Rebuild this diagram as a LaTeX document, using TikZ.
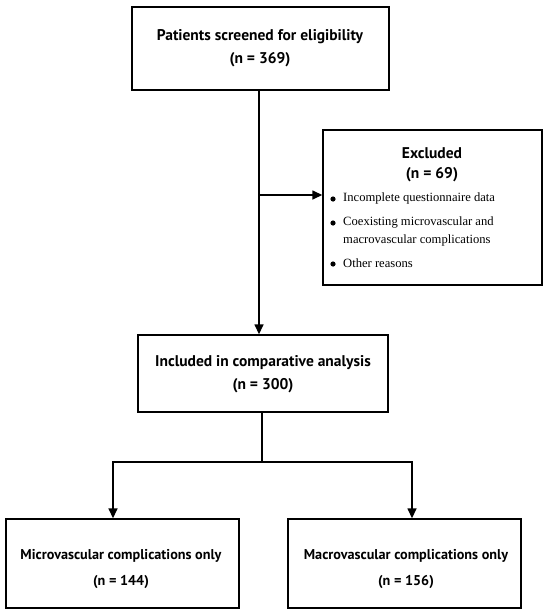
\documentclass[tikz,border=0pt]{standalone}
\usepackage{fontspec}
\setmainfont{Liberation Serif}
\newfontfamily\hd{PT Sans}
\usetikzlibrary{arrows.meta}
\begin{document}
\begin{tikzpicture}[x=1pt,y=-1pt,
  box/.style={draw, line width=1.4pt, rectangle, inner sep=0pt},
  hdtext/.style={font=\hd\bfseries\fontsize{15.5}{18}\selectfont, inner sep=0pt, anchor=center},
  hdsmall/.style={font=\hd\bfseries\fontsize{14.2}{17}\selectfont, inner sep=0pt, anchor=center},
  bl/.style={font=\fontsize{12.6}{15}\selectfont, inner sep=0pt, anchor=west},
  conn/.style={line width=1.5pt},
  arr/.style={conn, -{Triangle[length=10pt,width=9pt]}}]
\useasboundingbox (0,0) rectangle (550,613);
% boxes
\node[box, minimum width=257pt, minimum height=83pt] (top) at (260.5,48.5) {};
\node[box, minimum width=219pt, minimum height=155pt] (excl) at (432.5,207.5) {};
\node[box, minimum width=250pt, minimum height=77pt] (incl) at (263,373.5) {};
\node[box, minimum width=233pt, minimum height=89pt] (micro) at (122.5,563.5) {};
\node[box, minimum width=233pt, minimum height=89pt] (macro) at (404.5,563.5) {};
% texts
\node[hdtext] (t1) at (260,37) {Patients screened for eligibility};
\node[hdtext] (t2) at (260,60) {(n = 369)};
\node[hdtext] (e1) at (432,153) {Excluded};
\node[hdtext] (e2) at (432,175) {(n = 69)};
\node[bl] (b1) at (343,198) {Incomplete questionnaire data};
\node[bl] (b2) at (343,222) {Coexisting microvascular and};
\node[bl] (b3) at (343,240) {macrovascular complications};
\node[bl] (b4) at (343,263) {Other reasons};
\foreach \yy/\nm in {199/d1,223/d2,264/d3}
  \fill (333,\yy) circle (2.6pt) coordinate (\nm);
\node[hdtext] (i1) at (263,363) {Included in comparative analysis};
\node[hdtext] (i2) at (263,386) {(n = 300)};
\node[hdsmall] (m1) at (121,556) {Microvascular complications only};
\node[hdsmall] (m2) at (121,582) {(n = 144)};
\node[hdsmall] (a1) at (406,556) {Macrovascular complications only};
\node[hdsmall] (a2) at (406,582) {(n = 156)};
% connectors
\coordinate (s) at ([xshift=-1.5pt]top.south);
\coordinate (br) at (s |- 0,195);
\draw[arr] (s) -- (s |- incl.north);
\draw[arr] (br) -- (excl.west |- br);
\coordinate (j) at ([xshift=-1pt]incl.south |- 0,462);
\coordinate (jl) at (113,462);
\coordinate (jr) at (412,462);
\draw[conn] ([xshift=-1pt]incl.south) -- (j);
\draw[conn] ([xshift=-0.75pt]jl) -- ([xshift=0.75pt]jr);
\draw[arr] (jl) -- (jl |- micro.north);
\draw[arr] (jr) -- (jr |- macro.north);
\end{tikzpicture}
\end{document}
